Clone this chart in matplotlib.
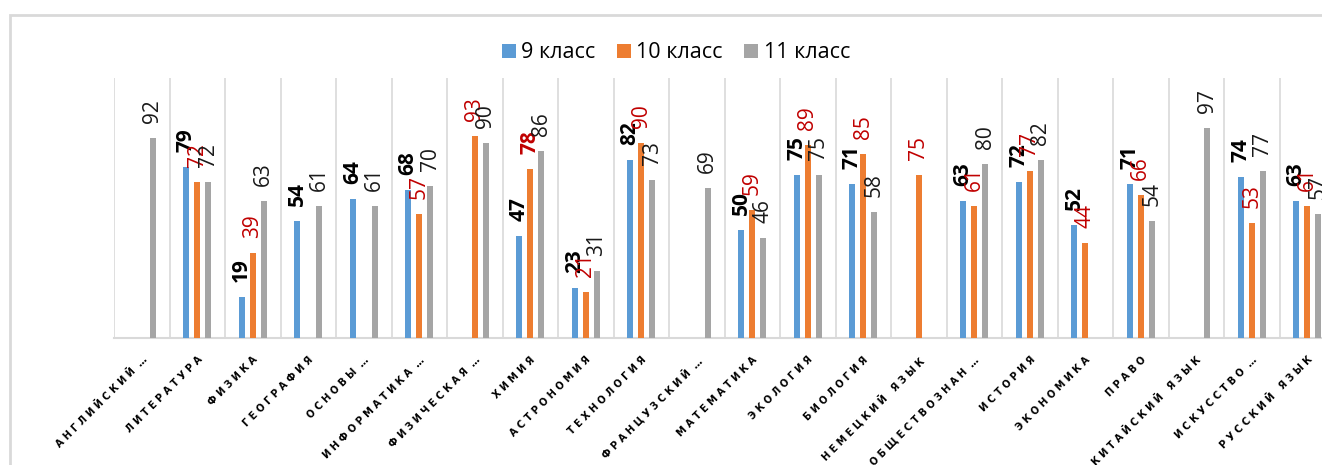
import matplotlib
matplotlib.use("Agg")
import matplotlib.pyplot as plt
import numpy as np
from matplotlib import font_manager
from matplotlib.patches import Patch, Rectangle

# Subjects (x-axis), truncated the way the original chart shows them
subjects = [
    "АНГЛИЙСКИЙ …", "ЛИТЕРАТУРА", "ФИЗИКА", "ГЕОГРАФИЯ", "ОСНОВЫ …",
    "ИНФОРМАТИКА …", "ФИЗИЧЕСКАЯ …", "ХИМИЯ", "АСТРОНОМИЯ", "ТЕХНОЛОГИЯ",
    "ФРАНЦУЗСКИЙ …", "МАТЕМАТИКА", "ЭКОЛОГИЯ", "БИОЛОГИЯ", "НЕМЕЦКИЙ ЯЗЫК",
    "ОБЩЕСТВОЗНАН…", "ИСТОРИЯ", "ЭКОНОМИКА", "ПРАВО", "КИТАЙСКИЙ ЯЗЫК",
    "ИСКУССТВО …", "РУССКИЙ ЯЗЫК",
]
grade9 = [None, 79, 19, 54, 64, 68, None, 47, 23, 82, None, 50, 75, 71, None,
          63, 72, 52, 71, None, 74, 63]
grade10 = [None, 72, 39, None, None, 57, 93, 78, 21, 90, None, 59, 89, 85, 75,
           61, 77, 44, 66, None, 53, 61]
grade11 = [92, 72, 63, 61, 61, 70, 90, 86, 31, 73, 69, 46, 75, 58, None,
           80, 82, None, 54, 97, 77, 57]
series_names = ["9 класс", "10 класс", "11 класс"]
# the one orange label that is set in bold in the original
bold_grade10 = ["ХИМИЯ"]

COLORS = ["#5B9BD5", "#ED7D31", "#A5A5A5"]
GRID = "#D9D9D9"
RED = "#C00000"

names = {f.name for f in font_manager.fontManager.ttflist}
LABEL_FONT = "Liberation Sans Narrow" if "Liberation Sans Narrow" in names else "Open Sans"
TEXT_FONT = "Open Sans" if "Open Sans" in names else "DejaVu Sans"

W, H = 1322, 465
fig = plt.figure(figsize=(W / 100, H / 100), dpi=100)
fig.patches.append(Rectangle((10 / W, -0.1), 1.2, 1.1 - 15 / H, transform=fig.transFigure,
                             fill=False, edgecolor=GRID, linewidth=2))

ax = fig.add_axes([114 / W, (H - 338) / H, 1221 / W, 260.4 / H])

x = np.arange(len(subjects))
series = [grade9, grade10, grade11]
offsets = [-0.2, 0.0, 0.2]
for k, (vals, off) in enumerate(zip(series, offsets)):
    v = np.array([np.nan if a is None else a for a in vals], dtype=float)
    ax.bar(x + off, v, width=0.108, color=COLORS[k], zorder=3)
    for i, val in enumerate(v):
        if np.isnan(val):
            continue
        if k == 0:
            color, weight = "black", "bold"
        elif k == 1:
            color = RED
            weight = "bold" if subjects[i] in bold_grade10 else "normal"
        else:
            color, weight = "#1a1a1a", "normal"
        ax.annotate(f"{int(val)}", (x[i] + off, val), xytext=(0, 15),
                    textcoords="offset pixels", rotation=90, ha="center",
                    va="bottom", fontsize=15, color=color, fontweight=weight,
                    family=[LABEL_FONT, "DejaVu Sans"], zorder=4)

ax.set_xlim(-0.5, len(subjects) - 0.5)
ax.set_ylim(0, 120)
ax.set_yticks([])
ax.set_xticks(x)
ax.set_xticklabels([" ".join(s.replace(" …", "…")).replace("…", " …") if "…" in s
                    else " ".join(s) for s in subjects],
                   rotation=45, ha="right", rotation_mode="anchor",
                   fontsize=7, fontweight="bold", family="DejaVu Sans")
ax.tick_params(axis="x", length=0, pad=12)
ax.set_xticks(np.arange(-0.5, len(subjects) + 0.5, 1), minor=True)
ax.tick_params(axis="x", which="minor", length=0)
ax.grid(axis="x", which="minor", color=GRID, linewidth=1.2, zorder=0)
ax.grid(axis="x", which="major", visible=False)
for side in ["top", "right", "left"]:
    ax.spines[side].set_visible(False)
ax.spines["bottom"].set_color(GRID)
ax.spines["bottom"].set_linewidth(1.5)

handles = [Patch(facecolor=c, label=n) for c, n in zip(COLORS, series_names)]
fig.legend(handles=handles, loc="center", bbox_to_anchor=(676 / W, 1 - 53 / H),
           ncol=3, frameon=False, prop={"family": TEXT_FONT, "size": 15.5},
           handlelength=0.65, handleheight=0.65, handletextpad=0.25,
           columnspacing=1.0)

fig.savefig("out.png", dpi=100, facecolor="white")
